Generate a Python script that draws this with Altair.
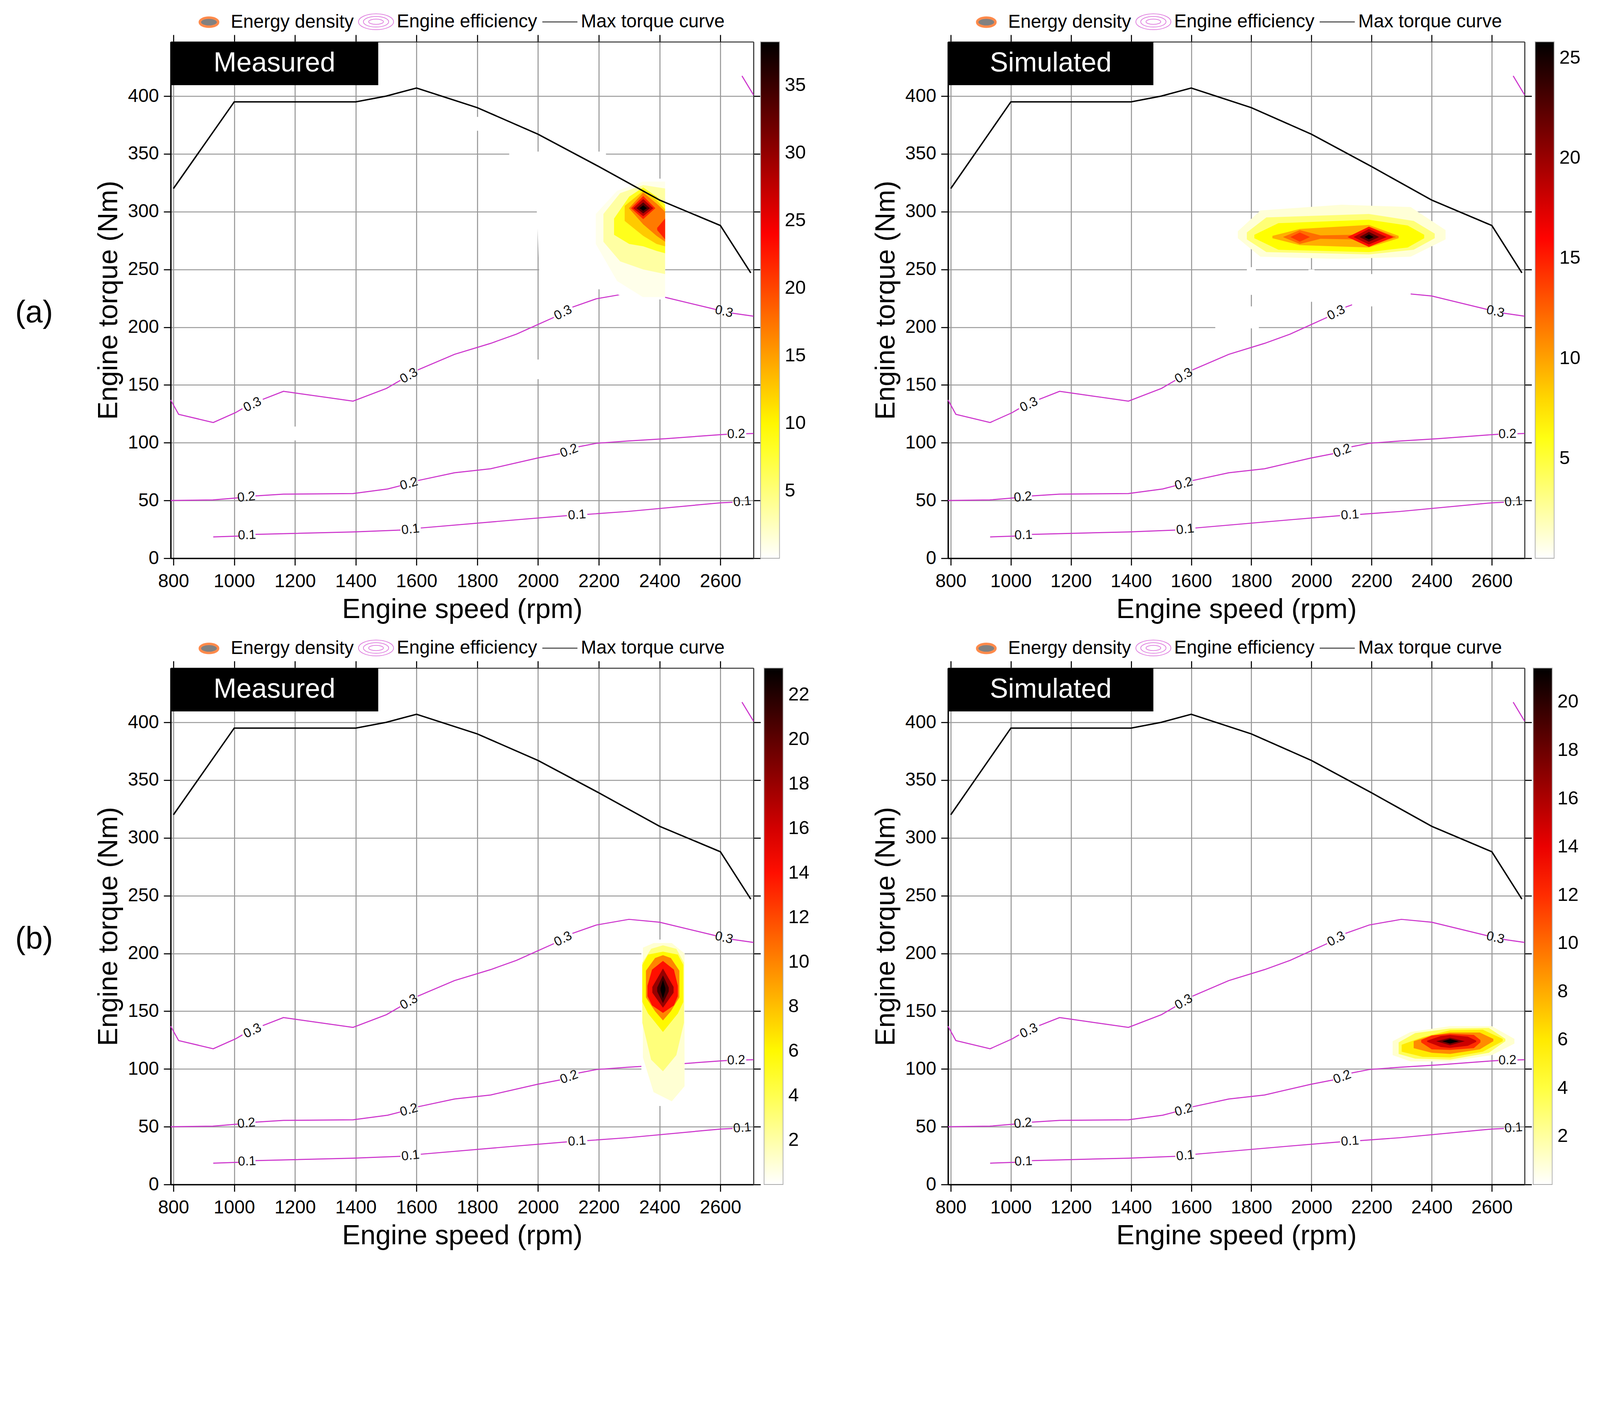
import altair as alt
import pandas as pd

FONT = "Liberation Sans"
S = 0.899  # overall pixel scale of the layout
X_DOMAIN = [791, 2709]
Y_DOMAIN = [0, 447]
X_TICKS = [800, 1000, 1200, 1400, 1600, 1800, 2000, 2200, 2400, 2600]
Y_TICKS = [0, 50, 100, 150, 200, 250, 300, 350, 400]
PANEL_H = round(1470 * S)
EFF_COLOR = "#cc33cc"

# ---------------- max torque curve ----------------
TORQUE_RPM = [800, 1000, 1400, 1500, 1600, 1800, 2000, 2200, 2400, 2600, 2700]
TORQUE_NM = [320, 395, 395, 400, 407, 390, 367, 339, 310, 288, 247]

# ---------------- engine efficiency contours (segments between labels) ----------------
EFF_SEGMENTS = [
    [(791, 137), (817, 124.6), (931, 117.5), (1004, 126), (1027, 129.5)],
    [(1094, 137.5), (1162, 144.5), (1391, 136), (1501, 147), (1547, 154)],
    [(1604, 163), (1725, 176.5), (1844, 186), (1929, 194), (1997, 202), (2052, 208.5)],
    [(2113, 217.3), (2192, 224.6), (2299, 229.5), (2400, 227), (2574, 216), (2586, 215.2)],
    [(2637, 212.2), (2709, 209.5)],
    [(2671, 417.5), (2709, 401)],
    [(791, 50), (930, 50.5), (1000, 52), (1012, 52.3)],
    [(1070, 54), (1162, 55.5), (1391, 56), (1505, 60), (1547, 62.8)],
    [(1605, 67.3), (1725, 74), (1844, 77.5), (1997, 86.7), (2072, 90.5)],
    [(2133, 96.5), (2192, 99.5), (2294, 101.5), (2421, 103.5), (2600, 107), (2622, 107.3)],
    [(2685, 107.8), (2709, 108)],
    [(931, 18.5), (1016, 19.2)],
    [(1070, 20.7), (1391, 22.8), (1547, 24.4)],
    [(1614, 26.2), (1929, 33.3), (2095, 36.9)],
    [(2162, 38), (2294, 40.5), (2600, 48), (2640, 48.5)],
]
EFF_LABEL_TEXT = ["0.3", "0.3", "0.3", "0.3", "0.2", "0.2", "0.2", "0.2", "0.1", "0.1", "0.1", "0.1"]
EFF_LABEL_RPM = [1060, 1575, 2082, 2612, 1040, 1575, 2102, 2652, 1042, 1580, 2128, 2672]
EFF_LABEL_NM = [133, 158, 212.5, 213.5, 53, 64.5, 93, 107.5, 20, 25, 37.5, 49]
EFF_LABEL_ANGLE = [334, 330, 333, 13, 354, 344, 339, 358, 358, 354, 356, 355]

# ---------------- energy density (filled level regions: value, [(rpm, low Nm, high Nm)]) ----------------
A_MEASURED_BANDS = [
    (0.0, [(1905, 336, 354), (1995, 306, 352), (2005, 240, 352), (2222, 232, 352), (2230, 232, 340), (2300, 224, 332), (2418, 224, 328)]),
    (0.0, [(1990, 155, 172), (2010, 155, 172)]),
    (0.0, [(1192, 102, 114), (1208, 102, 114)]),
    (0.0, [(1792, 370, 382), (1808, 370, 382)]),
    (0.8, [(2190, 272, 298), (2260, 240, 318), (2345, 226, 326), (2418, 226, 326)]),
    (3.5, [(2215, 274, 298), (2270, 257, 316), (2346, 250, 323), (2418, 246, 320)]),
    (8.5, [(2250, 280, 294), (2300, 272, 313), (2346, 270, 321), (2390, 266, 313), (2418, 264, 306)]),
    (12.5, [(2285, 292, 305), (2346, 279, 318), (2390, 272, 310), (2418, 270, 302)]),
    (17.0, [(2299, 303, 303), (2346, 289, 316.5), (2390, 279, 307), (2418, 274, 300)]),
    (22.0, [(2306, 303, 303), (2346, 293.5, 313.5), (2386, 303, 303)]),
    (22.0, [(2392, 284, 286), (2418, 276, 294)]),
    (28.0, [(2313, 303, 303), (2346, 296, 311), (2379, 303, 303)]),
    (33.5, [(2324, 303, 303), (2346, 298.5, 308), (2368, 303, 303)]),
    (38.2, [(2334, 303, 303), (2346, 300.8, 305.5), (2358, 303, 303)]),
]
A_SIMULATED_BANDS = [
    (0.0, [(2135, 218, 246), (2330, 218, 246)]),
    (0.0, [(1990, 222, 250), (2010, 222, 250)]),
    (0.0, [(1785, 228, 252), (1815, 228, 252)]),
    (0.0, [(1680, 199, 218), (1825, 199, 218)]),
    (1.0, [(1755, 277, 283), (1830, 261, 301), (2100, 259, 306), (2330, 261, 304), (2446, 276, 284)]),
    (3.5, [(1785, 276, 282), (1850, 265, 295), (2191, 263, 298), (2340, 267, 292), (2410, 277, 281)]),
    (6.5, [(1810, 277, 280), (1890, 267, 290), (2191, 265, 293), (2320, 269, 288), (2375, 277, 280)]),
    (9.5, [(1870, 277, 279), (1961, 271, 285), (2191, 269, 288.5), (2290, 277, 279)]),
    (12.0, [(1905, 278, 278), (1961, 272, 284), (2030, 276.5, 279.5), (2140, 276, 280), (2191, 270, 287), (2282, 278, 278)]),
    (14.0, [(1930, 278, 278), (1961, 274, 282), (1995, 278, 278)]),
    (15.5, [(2120, 278, 278), (2191, 269.5, 287), (2272, 278, 278)]),
    (19.0, [(2140, 278, 278), (2191, 271.5, 285), (2250, 278, 278)]),
    (22.5, [(2160, 278, 278), (2191, 274, 282.5), (2225, 278, 278)]),
    (25.8, [(2176, 278, 278), (2191, 276, 280.3), (2207, 278, 278)]),
]
B_MEASURED_BANDS = [
    (0.0, [(2340, 68, 212), (2482, 68, 212)]),
    (1.0, [(2345, 110, 205), (2380, 80, 209), (2440, 72, 209), (2482, 85, 200)]),
    (3.0, [(2343, 140, 192), (2372, 108, 204), (2411, 98, 207), (2455, 112, 204), (2480, 140, 192)]),
    (6.0, [(2343, 158, 190), (2362, 148, 199), (2411, 132, 201.5), (2460, 148, 199), (2478, 158, 190)]),
    (10.0, [(2355, 162, 185), (2385, 150, 196), (2411, 142, 198.5), (2437, 150, 196), (2465, 162, 185)]),
    (14.0, [(2360, 163, 172), (2375, 155, 186), (2411, 148.5, 193.5), (2447, 155, 186), (2460, 163, 172)]),
    (18.0, [(2376, 166, 171), (2411, 153, 187), (2446, 166, 171)]),
    (21.0, [(2392, 167, 170.5), (2411, 157, 181), (2430, 167, 170.5)]),
    (23.2, [(2403, 168, 170), (2411, 161, 177), (2419, 168, 170)]),
]
B_SIMULATED_BANDS = [
    (1.0, [(2270, 112, 124), (2330, 106.5, 132), (2460, 106.5, 137), (2600, 112, 137), (2675, 122, 126)]),
    (3.5, [(2290, 113, 123), (2345, 109, 131), (2461, 108, 135), (2590, 114, 135.5), (2645, 124, 126)]),
    (6.0, [(2300, 115, 121), (2370, 110.5, 127.5), (2461, 110, 133.5), (2570, 115, 134), (2636, 124, 126)]),
    (9.0, [(2340, 118, 124), (2400, 114, 129), (2461, 113, 131.5), (2560, 117, 131.5), (2605, 124, 126)]),
    (12.0, [(2365, 123, 125), (2400, 117, 129), (2461, 116.5, 130.4), (2540, 118, 129.5), (2562, 123, 125)]),
    (15.0, [(2385, 123.5, 124.5), (2430, 119, 128.5), (2461, 118.3, 129.4), (2520, 120, 128), (2548, 123.5, 124.5)]),
    (18.0, [(2415, 124, 124), (2461, 120.5, 127), (2510, 124, 124)]),
    (21.4, [(2435, 124, 124), (2461, 122, 125.8), (2490, 124, 124)]),
]

PANEL_BANDS = [A_MEASURED_BANDS, A_SIMULATED_BANDS, B_MEASURED_BANDS, B_SIMULATED_BANDS]
PANEL_TITLES = ["Measured", "Simulated", "Measured", "Simulated"]
PANEL_CMAX = [38.2, 25.8, 23.2, 21.4]
PANEL_CTICKS = [
    [5, 10, 15, 20, 25, 30, 35],
    [5, 10, 15, 20, 25],
    [2, 4, 6, 8, 10, 12, 14, 16, 18, 20, 22],
    [2, 4, 6, 8, 10, 12, 14, 16, 18, 20],
]
PANEL_TAGS = ["(a)", "", "(b)", ""]
PANEL_W = [round(w * S) for w in [1660, 1642, 1660, 1642]]
PANEL_CBAR_X = [round(x * S) for x in [1680, 1672, 1690, 1666]]

BOX_RPM = [791, 1474]
BOX_NM = [409.5, 447]

HOT_COLORS = ["#ffffff", "#ffff00", "#ff0000", "#000000"]
HOT_STOPS = [0.0, 0.25, 0.625, 1.0]


def ellipse_path(rx, ry):
    # closed ellipse outline drawn with four cubic curves (legend symbol styling)
    k = 0.5523
    return (f"M{-rx},0C{-rx},{-k*ry} {-k*rx},{-ry} 0,{-ry}"
            f"C{k*rx},{-ry} {rx},{-k*ry} {rx},0"
            f"C{rx},{k*ry} {k*rx},{ry} 0,{ry}"
            f"C{-k*rx},{ry} {-rx},{k*ry} {-rx},0Z")


LEGEND_ITEMS = ["Energy density", "Engine efficiency", "Max torque curve"]
LEGEND_SHAPES = [
    ellipse_path(0.52, 0.26),
    ellipse_path(1.0, 0.45) + ellipse_path(0.72, 0.3) + ellipse_path(0.42, 0.15),
    "M-1,0L1,0",
]
LEGEND_FILLS = ["#000000", "transparent", "transparent"]
LEGEND_STROKES = ["#ff5a00", "#d040d0", "#000000"]
LEGEND_WIDTHS = [7 * S, 2 * S, 3 * S]

# ---------------- frames ----------------
seg_rows = []
for i, seg in enumerate(EFF_SEGMENTS):
    for j, (r, n) in enumerate(seg):
        seg_rows.append({"seg": f"s{i:02d}", "ord": j, "rpm": r, "nm": n})
seg_df = pd.DataFrame(seg_rows)

lab_df = pd.DataFrame({"label": EFF_LABEL_TEXT, "rpm": EFF_LABEL_RPM, "nm": EFF_LABEL_NM, "angle": EFF_LABEL_ANGLE})
tq_df = pd.DataFrame({"rpm": TORQUE_RPM, "nm": TORQUE_NM})
leg_df = pd.DataFrame({"item": LEGEND_ITEMS})


def band_frame(bands):
    rows = []
    for i, (val, verts) in enumerate(bands):
        for (r, lo, hi) in verts:
            rows.append({"band": f"b{i:02d}", "value": val, "rpm": r, "lo": lo, "hi": hi})
    return pd.DataFrame(rows)


xs = alt.Scale(domain=X_DOMAIN, nice=False, zero=False)
ys = alt.Scale(domain=Y_DOMAIN, nice=False, zero=False)

x_bottom = alt.Axis(values=X_TICKS, format="d", title="Engine speed (rpm)", titleFont=FONT, titleFontSize=78 * S,
                    titleFontWeight="normal", titleColor="black", titlePadding=16 * S,
                    labelFont=FONT, labelFontSize=53 * S, labelColor="black", labelPadding=20 * S,
                    labelFlush=False, labelOverlap=False,
                    tickSize=20 * S, tickWidth=3 * S, tickColor="black", domainColor="black", domainWidth=4 * S,
                    grid=True, gridColor="#9a9a9a", gridWidth=3 * S)
y_left = alt.Axis(values=Y_TICKS, format="d", title="Engine torque (Nm)", titleFont=FONT, titleFontSize=78 * S,
                  titleFontWeight="normal", titleColor="black", titlePadding=14 * S,
                  labelFont=FONT, labelFontSize=53 * S, labelColor="black", labelPadding=14 * S,
                  labelFlush=False, labelOverlap=False,
                  tickSize=20 * S, tickWidth=3 * S, tickColor="black", domainColor="black", domainWidth=4 * S,
                  grid=True, gridColor="#9a9a9a", gridWidth=3 * S)
x_top = alt.Axis(orient="top", values=X_TICKS, labels=False, title=None, grid=False,
                 tickSize=20 * S, tickWidth=3 * S, tickColor="black", domainColor="#333333", domainWidth=3 * S)
y_right = alt.Axis(orient="right", values=Y_TICKS, labels=False, title=None, grid=False,
                   tickSize=20 * S, tickWidth=3 * S, tickColor="black", domainColor="#333333", domainWidth=3 * S)

sym_leg = alt.Legend(title=None, orient="none", legendX=55 * S, legendY=-110 * S, direction="horizontal",
                     symbolSize=(100 * S) ** 2, labelFont=FONT, labelFontSize=53 * S, labelColor="black",
                     labelOffset=8 * S, columnPadding=8 * S, padding=0, labelLimit=2000)


def panel(k):
    bands = PANEL_BANDS[k]
    cmax = PANEL_CMAX[k]
    bdf = band_frame(bands)
    grad_leg = alt.Legend(title=None, orient="none", legendX=PANEL_CBAR_X[k], legendY=0,
                          direction="vertical", gradientLength=PANEL_H, gradientThickness=54 * S,
                          values=PANEL_CTICKS[k], labelFont=FONT, labelFontSize=54 * S,
                          labelColor="black", labelOffset=15 * S, gradientStrokeColor="#aaaaaa",
                          gradientStrokeWidth=2 * S, labelOverlap=False, padding=0)
    cscale = alt.Scale(domain=[s * cmax for s in HOT_STOPS], range=HOT_COLORS, interpolate="rgb")

    contours = alt.Chart(seg_df).mark_line(color=EFF_COLOR, strokeWidth=3 * S).encode(
        x=alt.X("rpm:Q", scale=xs, axis=x_bottom),
        y=alt.Y("nm:Q", scale=ys, axis=y_left),
        detail="seg:N", order="ord:Q")

    density = alt.Chart(bdf).mark_area(interpolate="linear").encode(
        x=alt.X("rpm:Q", scale=xs, axis=None),
        y=alt.Y("lo:Q", scale=ys, axis=None, stack=False),
        y2="hi:Q",
        color=alt.Color("value:Q", scale=cscale, legend=grad_leg),
        detail="band:N")

    labels = alt.Chart(lab_df).mark_text(font=FONT, fontSize=37 * S, color="#111111").encode(
        x=alt.X("rpm:Q", scale=xs, axis=None),
        y=alt.Y("nm:Q", scale=ys, axis=None),
        text="label:N",
        angle=alt.Angle("angle:Q", scale=None))

    torque = alt.Chart(tq_df).mark_line(color="black", strokeWidth=4 * S).encode(
        x=alt.X("rpm:Q", scale=xs, axis=x_top),
        y=alt.Y("nm:Q", scale=ys, axis=y_right))

    box_df = pd.DataFrame({"x1": [BOX_RPM[0]], "x2": [BOX_RPM[1]], "y1": [BOX_NM[0]], "y2": [BOX_NM[1]],
                           "xc": [sum(BOX_RPM) / 2], "yc": [sum(BOX_NM) / 2], "title": [PANEL_TITLES[k]]})
    box = alt.Chart(box_df).mark_rect(color="black").encode(
        x=alt.X("x1:Q", scale=xs, axis=None), x2="x2:Q",
        y=alt.Y("y1:Q", scale=ys, axis=None), y2="y2:Q")
    box_text = alt.Chart(box_df).mark_text(font=FONT, fontSize=78 * S, color="white").encode(
        x=alt.X("xc:Q", scale=xs, axis=None),
        y=alt.Y("yc:Q", scale=ys, axis=None),
        text="title:N")

    legend_layer = alt.Chart(leg_df).mark_point(filled=True).encode(
        shape=alt.Shape("item:N", scale=alt.Scale(domain=LEGEND_ITEMS, range=LEGEND_SHAPES), legend=sym_leg),
        fill=alt.Fill("item:N", scale=alt.Scale(domain=LEGEND_ITEMS, range=LEGEND_FILLS), legend=sym_leg),
        stroke=alt.Stroke("item:N", scale=alt.Scale(domain=LEGEND_ITEMS, range=LEGEND_STROKES), legend=sym_leg),
        strokeWidth=alt.StrokeWidth("item:N", scale=alt.Scale(type="ordinal", domain=LEGEND_ITEMS, range=LEGEND_WIDTHS), legend=sym_leg),
    ).transform_filter("false")

    layers = [contours, density, labels, torque, box, box_text, legend_layer]
    if PANEL_TAGS[k]:
        tag = alt.Chart(pd.DataFrame({"tag": [PANEL_TAGS[k]]})).mark_text(
            font=FONT, fontSize=88 * S, color="black").encode(
            text="tag:N", x=alt.value(-389 * S), y=alt.value(772 * S))
        layers.append(tag)

    return alt.layer(*layers).properties(width=PANEL_W[k], height=PANEL_H).resolve_axis(
        x="independent", y="independent")


res = dict(color="independent", shape="independent", fill="independent",
           stroke="independent", strokeWidth="independent")

chart = alt.concat(panel(0), panel(1), panel(2), panel(3), columns=2,
                   spacing={"row": 14, "column": 160}).resolve_scale(**res).properties(
    padding={"left": 30, "top": 0, "right": 5, "bottom": 5},
).configure_view(stroke=None)

chart.save("out.html", embed_options={"renderer": "svg", "actions": False})
